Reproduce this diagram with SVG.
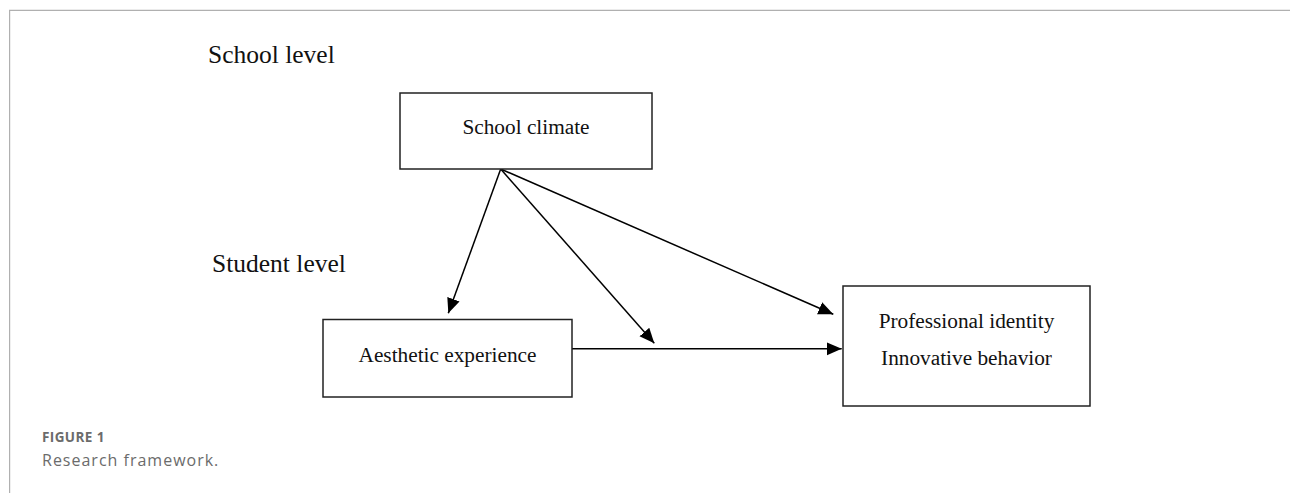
<svg xmlns="http://www.w3.org/2000/svg" width="1290" height="493" viewBox="0 0 1290 493">
<style>
.frame{stroke:#b0b0b0;stroke-width:1.2;fill:none}
.box{fill:#fff;stroke:#222;stroke-width:1.5}
.lbl{font-family:"Liberation Serif","Times New Roman",serif;fill:#111}
.lvl{font-size:25.5px}
.nt{font-size:21.3px;text-anchor:middle}
.conn{stroke:#000;stroke-width:1.5;fill:none;marker-end:url(#ah)}
.cap{font-family:"Open Sans","Liberation Sans",sans-serif;fill:#6b6b6b}
</style>
<defs>
<marker id="ah" markerUnits="userSpaceOnUse" markerWidth="16" markerHeight="14" viewBox="0 0 16 14" refX="15" refY="7" orient="auto">
<path d="M0,0.5 L15,7 L0,13.5 Z" fill="#000"/>
</marker>
</defs>
<rect width="1290" height="493" fill="#fff"/>
<path class="frame" d="M9.6,493 V10.4 H1290"/>
<text class="lbl lvl" x="208" y="63">School level</text>
<text class="lbl lvl" x="212" y="272">Student level</text>
<g id="connectors">
<line class="conn" x1="500.7" y1="169" x2="448.3" y2="313.3"/>
<line class="conn" x1="500.7" y1="169" x2="654.3" y2="343.3"/>
<line class="conn" x1="500.7" y1="169" x2="833.3" y2="314.3"/>
<line class="conn" x1="572" y1="348.8" x2="841.7" y2="348.8"/>
</g>
<g id="school-climate">
<rect class="box" x="400" y="93" width="252" height="76"/>
<text class="lbl nt" x="526" y="134">School climate</text>
</g>
<g id="aesthetic-experience">
<rect class="box" x="323" y="319.5" width="249" height="77.5"/>
<text class="lbl nt" x="447.5" y="362">Aesthetic experience</text>
</g>
<g id="outcomes">
<rect class="box" x="843" y="286" width="247" height="120"/>
<text class="lbl nt" x="966.5" y="328">Professional identity</text>
<text class="lbl nt" x="966.5" y="365">Innovative behavior</text>
</g>
<text class="cap" x="42" y="442" font-size="13.5" font-weight="700" letter-spacing="0.4">FIGURE 1</text>
<text class="cap" x="42" y="466" font-size="16" letter-spacing="1">Research framework.</text>
</svg>
